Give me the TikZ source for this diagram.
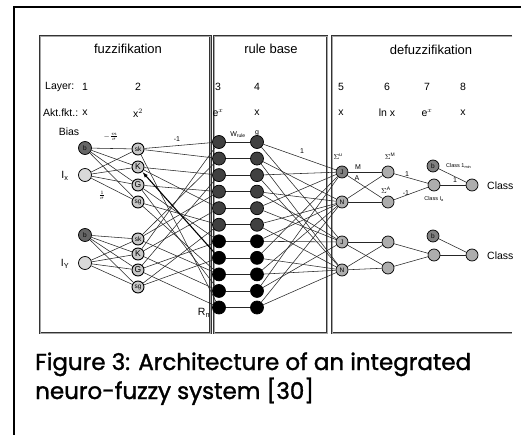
\documentclass[tikz,border=0pt]{standalone}
\usepackage{fontspec}
\setmainfont{Liberation Sans}
\newfontfamily\capfont[FakeBold=1.4]{Poppins}
\usetikzlibrary{arrows.meta}

\begin{document}
\begin{tikzpicture}[x=1pt,y=-1pt,
  neuron/.style={circle, draw=black, line width=0.7pt, inner sep=0pt,
                 minimum size=12pt, font=\fontsize{6.5}{6.5}\selectfont},
  inp/.style={neuron, minimum size=13pt, fill=black!15},
  biasn/.style={neuron, minimum size=13pt, fill=black!60},
  mem/.style={neuron, minimum size=12pt, line width=0.9pt, fill=black!22},
  rulen/.style={neuron, minimum size=13pt, fill=black!75},
  rulek/.style={neuron, minimum size=13pt, fill=black},
  outa/.style={neuron, fill=black!50},
  outb/.style={neuron, fill=black!32},
  panel/.style={draw=black!80, line width=0.7pt, double=black!35, double distance=0.8pt},
  link/.style={line width=0.55pt, draw=black!85},
  lbl/.style={font=\fontsize{10.5}{12}\selectfont, inner sep=0pt},
  ttl/.style={font=\fontsize{13}{15}\selectfont, inner sep=0pt},
  tiny/.style={font=\fontsize{7}{8}\selectfont, inner sep=0pt},
  capt/.style={font=\capfont\fontsize{23}{27}\selectfont, anchor=base west, inner sep=0pt}
]
\useasboundingbox (0,0) rectangle (521,435);
\fill[white] (0,0) rectangle (521,435);

% outer frame
\draw[line width=1.4pt] (14,435) -- (14,7) -- (521,7);

% the three panels
\draw[panel] (40,36) rectangle (210.5,333);
\draw[panel] (214,36) rectangle (327,333);
\draw[panel] (512,36) -- (332,36) -- (332,333) -- (512,333);

\node[ttl] (tfuz) at (128,49) {fuzzifikation};
\node[ttl] (trule) at (271,49) {rule base};
\node[ttl] (tdef) at (431,50) {defuzzifikation};

% layer numbers and activation functions
\node[lbl, anchor=west] (hlay) at (45,87) {Layer:};
\node[lbl, anchor=west] (hakt) at (43,113) {Akt.fkt.:};
\foreach \nm/\xx/\num/\fn in {l1/85/1/x, l2/138/2/x$^2$, l3/218/3/e$^x$, l4/257/4/x,
                               l5/341/5/x, l6/387/6/ln x, l7/427/7/e$^x$, l8/463/8/x}{
  \node[lbl] (n\nm) at (\xx,87) {\num};
  \node[lbl] (f\nm) at (\xx,113) {\fn};
}

% layer 1: inputs and bias
\node[lbl] (tbias) at (69,132) {Bias};
\node[biasn] (b1) at (85,148) {b};
\node[inp] (ix) at (85,175) {};
\node[biasn] (b2) at (85,235) {b};
\node[inp] (iy) at (85,263) {};
\node[lbl] (tix) at (65,176) {I$_{\mathrm{x}}$};
\node[lbl] (tiy) at (65,264) {I$_{\mathrm{Y}}$};

% layer 2: membership terms
\node[mem] (a1) at (138,149) {sk};
\node[mem, font=\fontsize{8.5}{9}\selectfont] (a2) at (138,167) {K};
\node[mem, font=\fontsize{8.5}{9}\selectfont] (a3) at (138,185) {G};
\node[mem] (a4) at (138,202) {sg};
\node[mem] (c1) at (138,239) {sk};
\node[mem, font=\fontsize{8.5}{9}\selectfont] (c2) at (138,254) {K};
\node[mem, font=\fontsize{8.5}{9}\selectfont] (c3) at (138,270) {G};
\node[mem] (c4) at (138,287) {sg};

\foreach \s in {b1,ix}{\foreach \t in {a1,a2,a3,a4}{\draw[link] (\s) -- (\t);}}
\foreach \s in {b2,iy}{\foreach \t in {c1,c2,c3,c4}{\draw[link] (\s) -- (\t);}}

\node[tiny] (lms) at (111,137) {$-\frac{m}{\sigma}$};
\node[tiny] (lsg) at (102,195) {$\frac{1}{\sigma}$};

% layers 3 and 4: rule base
\foreach \i in {1,...,6}{
  \pgfmathsetmacro\yy{142+(\i-1)*16.55}
  \node[rulen] (r\i) at (219,\yy) {};
  \node[rulen] (s\i) at (257,\yy) {};
}
\foreach \i in {7,...,11}{
  \pgfmathsetmacro\yy{142+(\i-1)*16.55}
  \node[rulek] (r\i) at (219,\yy) {};
  \node[rulek] (s\i) at (257,\yy) {};
}
\foreach \i in {1,...,11}{\draw[link] (r\i) -- (s\i);}

\node[tiny] (wrule) at (238,135) {W$_{\mathrm{rule}}$};
\node[tiny] (tg) at (257,133) {g};
\node[lbl] (trn) at (204,313) {R$_{\mathrm{n}}$};
\node[tiny] (lm1) at (177,139) {-1};

% premises of the rules
\foreach \r/\a/\c in {1/a1/c2, 2/a1/c1, 3/a2/c3, 4/a3/c1, 5/a2/c2, 6/a4/c4,
                      7/a3/c3, 9/a4/c1, 10/a3/c2, 11/a1/c3}{
  \draw[link] (\a) -- (r\r);
  \draw[link] (\c) -- (r\r);
}
\draw[link] (c4) -- (r8);
\draw[line width=1.1pt, -{Latex[length=6pt,width=4pt]}] (r8) -- (a2);

% layer 5
\node[outa] (u1) at (342,172) {J};
\node[outb] (u2) at (342,202) {N};
\node[outb] (u3) at (342,242) {J};
\node[outb] (u4) at (342,270) {N};

% conclusions of the rules
\foreach \s/\p/\q in {1/u1/u3, 2/u2/u4, 3/u1/u4, 4/u2/u3, 5/u1/u3, 6/u2/u4,
                      7/u2/u3, 8/u1/u4, 9/u2/u4, 10/u1/u3, 11/u2/u4}{
  \draw[link] (s\s) -- (\p);
  \draw[link] (s\s) -- (\q);
}
\node[tiny] (lone) at (302,151) {1};

% layer 6
\node[outb] (v1) at (388,172) {};
\node[outb] (v2) at (388,202) {};
\node[outb] (v3) at (388,242) {};
\node[outb] (v4) at (388,268) {};
\foreach \s/\t in {u1/v1, u1/v2, u2/v1, u2/v2, u3/v3, u3/v4, u4/v3, u4/v4}{
  \draw[link] (\s) -- (\t);
}
\node[tiny] (su) at (338,157) {$\Sigma$\textsuperscript{u}};
\node[tiny] (sm) at (390,156) {$\Sigma$\textsuperscript{M}};
\node[tiny] (sa) at (386,190) {$\Sigma$\textsuperscript{A}};
\node[tiny] (lM) at (358,167) {M};
\node[tiny] (lA) at (357,178) {A};

% layers 7 and 8
\node[outb] (w1) at (434,185) {};
\node[outb] (w2) at (434,255) {};
\node[outa] (bb1) at (433,166) {b};
\node[outa] (bb2) at (433,236) {b};
\node[outb] (z1) at (472,185) {};
\node[outb] (z2) at (472,255) {};
\foreach \s/\t in {v1/w1, v2/w1, v3/w2, v4/w2, w1/z1, w2/z2, bb1/z1, bb2/z2}{
  \draw[link] (\s) -- (\t);
}
\node[tiny] (l61) at (407,174) {1};
\node[tiny] (l62) at (406,193) {-1};
\node[tiny] (l71) at (455,180) {1};
\node[tiny, font=\fontsize{5.5}{6}\selectfont, anchor=west] (cmin) at (446,166) {Class 1$_{\min}$};
\node[tiny, font=\fontsize{5.5}{6}\selectfont] (cia) at (434,199) {Class I$_{\mathrm{a}}$};
\node[lbl, anchor=west] (cl1) at (487,186) {Class};
\node[lbl, anchor=west] (cl2) at (487,256) {Class};

% caption
\node[capt] (cap1) at (35,370) {Figure 3: Architecture of an integrated};
\node[capt] (cap2) at (35,399) {neuro-fuzzy system [30]};
\end{tikzpicture}
\end{document}
